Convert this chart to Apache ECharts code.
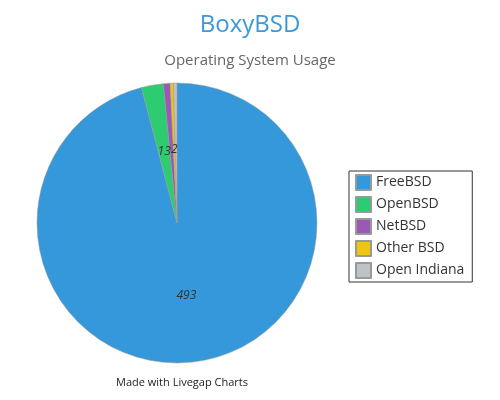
<!DOCTYPE html><html><head><meta charset="utf-8"><script src="https://cdn.jsdelivr.net/npm/echarts@6/dist/echarts.min.js"></script></head><body style="margin:0"><div id="c" style="width:500px;height:400px"></div><script>
const categories=['FreeBSD','OpenBSD','NetBSD','Other BSD','Open Indiana'];
const values=[493,13,4,2,2];
const colors=['#3498db','#2ecc71','#9b59b6','#f1c40f','#bdc3c7'];
const ch=echarts.init(document.getElementById('c'));
ch.setOption({
title:[{text:'BoxyBSD',left:'center',top:8,textStyle:{color:'#3a9ad9',fontSize:24,fontWeight:'normal',fontFamily:'Open Sans'}},
{text:'Operating System Usage',left:'center',top:48,textStyle:{color:'#666',fontSize:15,fontWeight:'normal',fontFamily:'Open Sans'}},
{text:'Made with Livegap Charts',left:177,textAlign:'center',top:372,textStyle:{color:'#222',fontSize:11,fontWeight:'normal',fontFamily:'Open Sans'}}],
legend:{orient:'vertical',left:349,top:171,itemWidth:15,itemHeight:15,itemGap:5,borderColor:'#333',borderWidth:1,padding:[3,8,3,6],icon:'rect',
textStyle:{fontSize:14,color:'#333',fontFamily:'Open Sans'},data:categories},
series:[{type:'pie',center:[177,223],radius:140,startAngle:90,clockwise:true,
itemStyle:{borderColor:'#999',borderWidth:0.5},
label:{position:'inside',formatter:'{c}',fontStyle:'italic',color:'#333',fontSize:12,fontFamily:'Open Sans'},
labelLine:{show:false},
data:categories.map((n,i)=>({name:n,value:values[i],itemStyle:{color:colors[i]}}))}]
});
</script></body></html>
